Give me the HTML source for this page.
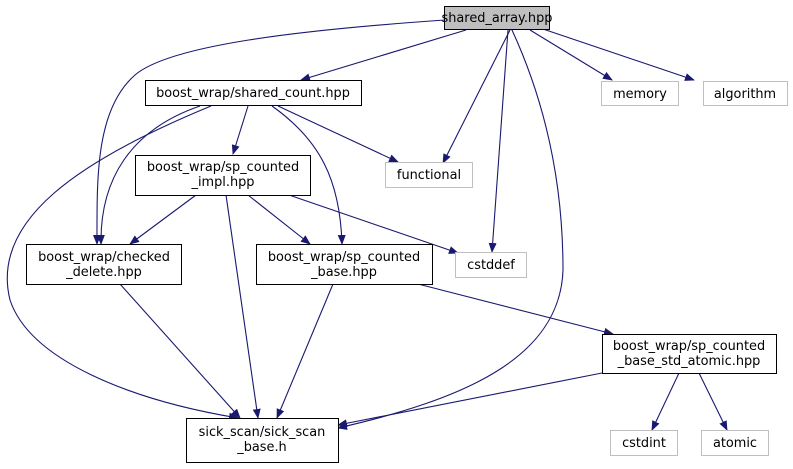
<!DOCTYPE html>
<html><head><meta charset="utf-8"><style>html,body{margin:0;padding:0;background:#fff}svg{display:block}text{font-family:"DejaVu Sans","Liberation Sans",sans-serif;font-size:12.9px;text-anchor:middle}</style></head>
<body>
<svg width="793" height="469" viewBox="0 0 793 469" xmlns="http://www.w3.org/2000/svg">
<defs><marker id="a" markerWidth="10" markerHeight="8" refX="9" refY="4" orient="auto" markerUnits="userSpaceOnUse"><path d="M0,0 L10,4 L0,8 z" fill="#191970"/></marker></defs>
<g fill="none" stroke="#191970" stroke-width="1.1" marker-end="url(#a)">
<path d="M466,30 L301,80"/>
<path d="M445,20 C300,30 170,45 135,75 C95,110 97,180 97,244"/>
<path d="M510,30 L443,163"/>
<path d="M508,30 L492,252"/>
<path d="M512,30 C535,80 563,160 563,270 C560,360 460,400 338,428"/>
<path d="M530,30 L612,80"/>
<path d="M540,28 L694,80"/>
<path d="M248,106 L233,154"/>
<path d="M272,106 C320,140 340,180 342,244"/>
<path d="M278,106 L398,162"/>
<path d="M200,106 C130,130 100,180 101,244"/>
<path d="M211,106 C80,160 -10,220 10,300 C30,360 130,400 238,418"/>
<path d="M196,195 L130,244"/>
<path d="M248,195 L310,244"/>
<path d="M289,195 L458,253"/>
<path d="M226,195 L258,418"/>
<path d="M120,284 L240,418"/>
<path d="M333,284 L277,418"/>
<path d="M418,284 L613,334"/>
<path d="M602,373 L338,425"/>
<path d="M679,373 L652,430"/>
<path d="M699,373 L727,430"/>
</g>
<g stroke-width="1">
<rect x="444.5" y="6.5" width="105" height="23" fill="#bfbfbf" stroke="#000"/>
<rect x="145.5" y="80.5" width="216" height="25" fill="#fff" stroke="#000"/>
<rect x="601.5" y="81.5" width="77" height="24" fill="#fff" stroke="#bfbfbf"/>
<rect x="703.5" y="81.5" width="84" height="24" fill="#fff" stroke="#bfbfbf"/>
<rect x="385.5" y="162.5" width="87" height="25" fill="#fff" stroke="#bfbfbf"/>
<rect x="135.5" y="155.5" width="175" height="40" fill="#fff" stroke="#000"/>
<rect x="455.5" y="252.5" width="71" height="25" fill="#fff" stroke="#bfbfbf"/>
<rect x="26.5" y="244.5" width="155" height="40" fill="#fff" stroke="#000"/>
<rect x="256.5" y="244.5" width="176" height="40" fill="#fff" stroke="#000"/>
<rect x="602.5" y="334.5" width="174" height="39" fill="#fff" stroke="#000"/>
<rect x="186.5" y="418.5" width="152" height="44" fill="#fff" stroke="#000"/>
<rect x="610.5" y="430.5" width="67" height="25" fill="#fff" stroke="#bfbfbf"/>
<rect x="701.5" y="430.5" width="67" height="25" fill="#fff" stroke="#bfbfbf"/>
</g>
<g fill="#000">
<text x="497" y="22">shared_array.hpp</text>
<text x="253" y="97">boost_wrap/shared_count.hpp</text>
<text x="640" y="98">memory</text>
<text x="745" y="98">algorithm</text>
<text x="429" y="179">functional</text>
<text x="223" y="171">boost_wrap/sp_counted</text>
<text x="223" y="186">_impl.hpp</text>
<text x="491" y="269">cstddef</text>
<text x="104" y="261">boost_wrap/checked</text>
<text x="104" y="276">_delete.hpp</text>
<text x="344" y="261">boost_wrap/sp_counted</text>
<text x="344" y="276">_base.hpp</text>
<text x="689" y="350">boost_wrap/sp_counted</text>
<text x="689" y="365">_base_std_atomic.hpp</text>
<text x="262" y="436">sick_scan/sick_scan</text>
<text x="262" y="451">_base.h</text>
<text x="644" y="447">cstdint</text>
<text x="735" y="447">atomic</text>
</g>
</svg>
</body></html>
